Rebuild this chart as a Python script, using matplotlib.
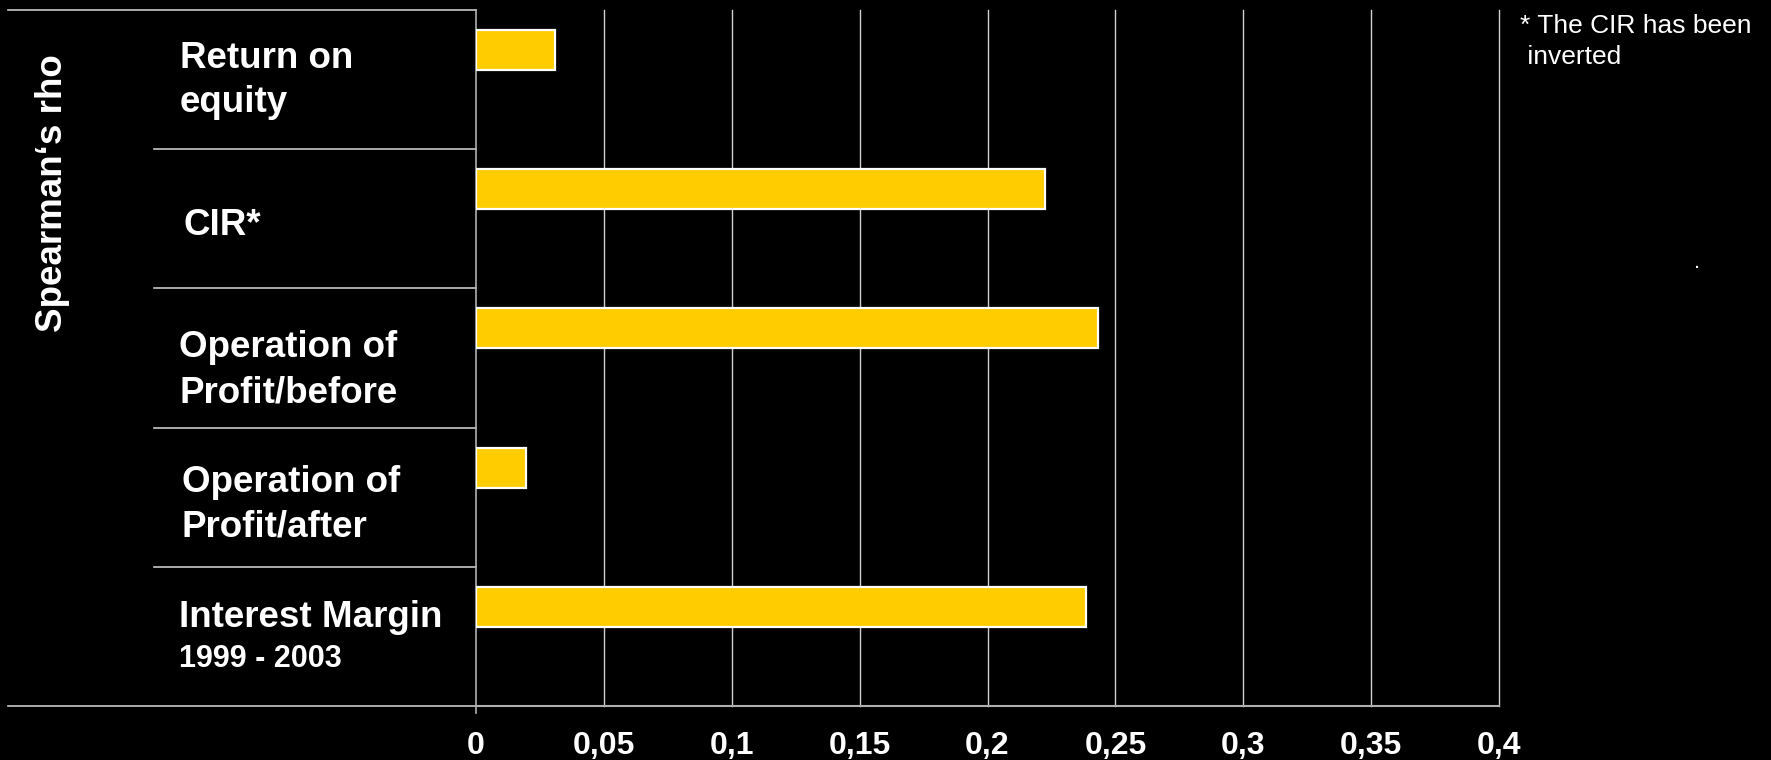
import matplotlib
matplotlib.use("Agg")
import matplotlib.pyplot as plt
import matplotlib.transforms as mtransforms

# ---- data ----
categories = ["Return on equity", "CIR*", "Operation of Profit/before",
              "Operation of Profit/after", "Interest Margin 1999 - 2003"]
values = [0.031, 0.2225, 0.2432, 0.0196, 0.2385]
xticks = [0, 0.05, 0.1, 0.15, 0.2, 0.25, 0.3, 0.35, 0.4]
xtick_labels = ["0", "0,05", "0,1", "0,15", "0,2", "0,25", "0,3", "0,35", "0,4"]
label_lines = [["Return on", "equity"], ["CIR*"], ["Operation of", "Profit/before"],
               ["Operation of", "Profit/after"], ["Interest Margin", "1999 - 2003"]]
label_offsets = [[-0.083, 0.233], [0.116], [-0.007, 0.323], [-0.037, 0.279], [-0.068, 0.22]]
label_x = [-0.2893, -0.2864, -0.2903, -0.2874, -0.2903]
ylabel = "Spearman\u2018s rho"
footnote = ["* The CIR has been", " inverted"]

plt.rcParams['font.family'] = ['Liberation Sans', 'DejaVu Sans']

fig = plt.figure(figsize=(17.71, 7.60), dpi=100, facecolor='black')
ax = fig.add_axes([476/1771, 1-706/760, (1499-476)/1771, (706-10)/760])
ax.set_facecolor('black')

n = len(categories)
pos = list(range(n))
bar_h = 0.287
ax.barh([p - 0.213 for p in pos], values, height=bar_h, color='#FFCC00',
        edgecolor='white', linewidth=1.6, zorder=3)

ax.set_xlim(0, 0.4)
ax.set_ylim(n - 0.5, -0.5)
ax.set_xticks(xticks)
ax.set_xticklabels(xtick_labels, fontsize=23, fontweight='bold', color='white')
ax.tick_params(axis='x', length=0, pad=18)
ax.set_yticks([])
for x in xticks[1:]:
    ax.axvline(x, color='#d0d0d0', linewidth=1.0, zorder=1, clip_on=False)
for s in ['top', 'right']:
    ax.spines[s].set_visible(False)
ax.spines['left'].set_color('#b0b0b0')
ax.spines['bottom'].set_color('#b0b0b0')
ax.spines['left'].set_linewidth(1.2)
ax.spines['bottom'].set_linewidth(1.5)

trans = mtransforms.blended_transform_factory(ax.transAxes, ax.transData)
# small tick below the origin
ax.plot([0, 0], [n - 0.5, n - 0.45], color='#b0b0b0', linewidth=1.2,
        transform=ax.transData, clip_on=False)
# table lines on the left
for b in range(1, n):
    ax.plot([-0.3148, 0], [b - 0.5, b - 0.5], color='#c8c8c8', linewidth=1.2,
            transform=trans, clip_on=False)
ax.plot([-0.4575, 0], [-0.5, -0.5], color='#c8c8c8', linewidth=1.2,
        transform=trans, clip_on=False)
ax.plot([-0.4575, 0], [n - 0.5, n - 0.5], color='#c8c8c8', linewidth=1.2,
        transform=trans, clip_on=False)

for i, (lines, offs, lx) in enumerate(zip(label_lines, label_offsets, label_x)):
    for j, (t, o) in enumerate(zip(lines, offs)):
        fs = 22 if t[0].isdigit() else 26.5
        ax.text(lx, i + o, t, transform=trans, fontsize=fs, fontweight='bold',
                color='white', ha='left', va='baseline', clip_on=False)

fig.text(52/1771, 1-193/760, ylabel, rotation=90, fontsize=26.5, fontweight='bold',
         color='white', ha='center', va='center')

fig.text(1520/1771, 1-33/760, footnote[0], fontsize=19, color='white',
         ha='left', va='baseline')
fig.text(1520/1771, 1-64/760, footnote[1], fontsize=19, color='white',
         ha='left', va='baseline')
fig.text(1697/1771, 1-268/760, ".", fontsize=16, color='white', ha='center', va='baseline')

fig.savefig("out.png", dpi=100, facecolor='black')
